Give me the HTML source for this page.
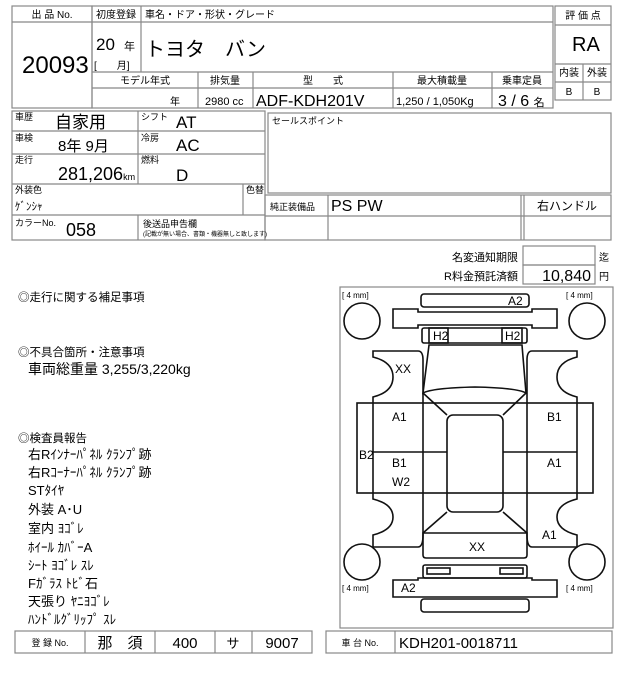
<!DOCTYPE html>
<html><head><meta charset="utf-8"><style>
html,body{margin:0;padding:0;background:#fff;}
svg{display:block;font-family:"Liberation Sans Narrow","Liberation Sans","Noto Sans CJK JP",sans-serif;}
</style></head><body>
<svg width="640" height="680" viewBox="0 0 640 680" xmlns="http://www.w3.org/2000/svg">
<g fill="none" stroke="#888" stroke-width="1.2">
<rect x="12" y="6" width="80" height="102"/><line x1="12" y1="22" x2="92" y2="22"/>
<rect x="92" y="6" width="461" height="102"/>
<line x1="92" y1="22" x2="553" y2="22"/><line x1="141" y1="6" x2="141" y2="72"/>
<line x1="92" y1="72" x2="553" y2="72"/><line x1="92" y1="88" x2="553" y2="88"/>
<line x1="198" y1="72" x2="198" y2="108"/><line x1="253" y1="72" x2="253" y2="108"/>
<line x1="393" y1="72" x2="393" y2="108"/><line x1="492" y1="72" x2="492" y2="108"/>
<rect x="555" y="6" width="56" height="94"/><line x1="555" y1="25" x2="611" y2="25"/>
<line x1="555" y1="64" x2="611" y2="64"/><line x1="555" y1="82" x2="611" y2="82"/><line x1="583" y1="64" x2="583" y2="100"/>
<rect x="12" y="111" width="253" height="129"/>
<line x1="12" y1="131" x2="265" y2="131"/><line x1="12" y1="154" x2="265" y2="154"/>
<line x1="12" y1="184" x2="265" y2="184"/><line x1="12" y1="215" x2="265" y2="215"/>
<line x1="138" y1="111" x2="138" y2="184"/><line x1="138" y1="215" x2="138" y2="240"/>
<line x1="243" y1="184" x2="243" y2="215"/>
<rect x="268" y="113" width="343" height="80"/>
<rect x="265" y="195" width="346" height="45"/><line x1="265" y1="216" x2="611" y2="216"/>
<line x1="328" y1="195" x2="328" y2="240"/><line x1="521" y1="195" x2="521" y2="240"/><line x1="524" y1="195" x2="524" y2="240"/>
<rect x="523" y="246" width="72" height="19"/><rect x="523" y="265" width="72" height="19"/>
<rect x="340" y="287" width="273" height="341"/>
<rect x="15" y="631" width="297" height="22"/>
<line x1="85" y1="631" x2="85" y2="653"/><line x1="155" y1="631" x2="155" y2="653"/>
<line x1="215" y1="631" x2="215" y2="653"/><line x1="252" y1="631" x2="252" y2="653"/>
<rect x="326" y="631" width="286" height="22"/><line x1="395" y1="631" x2="395" y2="653"/>
</g>
<g fill="none" stroke="#111" stroke-width="1.6">
<rect x="421" y="294" width="108" height="13" rx="3"/>
<path d="M393 309 H418 V312 H532 V309 H557 V328 H532 V325 H418 V328 H393 Z"/>
<rect x="422" y="328" width="105" height="15" rx="2"/>
<rect x="429" y="328" width="19" height="15"/><rect x="502" y="328" width="20" height="15"/>
<circle cx="362" cy="321" r="18"/><circle cx="587" cy="321" r="18"/>
<circle cx="362" cy="562" r="18"/><circle cx="587" cy="562" r="18"/>
<path d="M429 345 L522 345 L526 393 Q518 388 475 387 Q432 388 423 393 Z"/>
<path d="M423 393 L447 415 M526 393 L503 415"/>
<rect x="447" y="415" width="56" height="97" rx="6"/>
<path d="M373 403 V397 Q393 392 393 377 Q393 362 373 357 V351 H418 Q423 351 423 360 V403"/>
<path d="M577 403 V397 Q557 392 557 377 Q557 362 577 357 V351 H532 Q527 351 527 360 V403"/>
<rect x="357" y="403" width="236" height="90"/>
<line x1="373" y1="403" x2="373" y2="493"/><line x1="423" y1="403" x2="423" y2="493"/>
<line x1="577" y1="403" x2="577" y2="493"/><line x1="527" y1="403" x2="527" y2="493"/>
<line x1="373" y1="452" x2="447" y2="452"/><line x1="503" y1="452" x2="577" y2="452"/>
<path d="M373 493 V499 Q393 504 393 517 Q393 530 373 535 V547 H418 Q423 547 423 535 V493"/>
<path d="M577 493 V499 Q557 504 557 517 Q557 530 577 535 V547 H532 Q527 547 527 535 V493"/>
<path d="M447 512 L423 533 M503 512 L527 533"/>
<path d="M423 533 H527 V555 Q527 558 524 558 H426 Q423 558 423 555 Z"/>
<rect x="423" y="565" width="104" height="13" rx="2"/>
<rect x="427" y="568" width="23" height="6"/><rect x="500" y="568" width="23" height="6"/>
<path d="M393 597 V580 H418 V578 H532 V580 H557 V597 Z"/>
<rect x="421" y="599" width="108" height="13" rx="3"/>
</g>
<g fill="#000" font-size="12">
<text x="395" y="373">XX</text>
<text x="392" y="421">A1</text><text x="359" y="459">B2</text>
<text x="392" y="467">B1</text><text x="392" y="486">W2</text>
<text x="547" y="421">B1</text><text x="547" y="467">A1</text>
<text x="542" y="539">A1</text><text x="469" y="551">XX</text>
<text x="508" y="305">A2</text><text x="401" y="592">A2</text>
<text x="433" y="340">H2</text><text x="505" y="340">H2</text>
<g font-size="8"><text x="342" y="298">[ 4 mm]</text><text x="566" y="298">[ 4 mm]</text>
<text x="342" y="591">[ 4 mm]</text><text x="566" y="591">[ 4 mm]</text></g>
</g>
<g fill="#000">
<g font-size="10" text-anchor="middle">
<text x="52" y="18">出 品 No.</text><text x="116" y="18">初度登録</text>
<text x="145" y="18" text-anchor="start">車名・ドア・形状・グレード</text>
<text x="145" y="84">モデル年式</text><text x="225" y="84">排気量</text>
<text x="323" y="84">型　　式</text><text x="442" y="84">最大積載量</text><text x="522" y="84">乗車定員</text>
<text x="583" y="19">評 価 点</text><text x="569" y="76">内装</text><text x="597" y="76">外装</text>
<text x="569" y="95">B</text><text x="597" y="95">B</text>
</g>
<text x="22" y="73" font-size="24">20093</text>
<text x="96" y="50" font-size="17">20</text><text x="124" y="50" font-size="11">年</text>
<text x="94" y="69" font-size="10">[　　月]</text>
<text x="145" y="56" font-size="20">トヨタ　バン</text>
<text x="170" y="105" font-size="10">年</text>
<text x="205" y="105" font-size="11">2980 cc</text>
<text x="256" y="106" font-size="16">ADF-KDH201V</text>
<text x="396" y="105" font-size="11">1,250 /  1,050Kg</text>
<text x="498" y="106" font-size="16">3 / 6 <tspan font-size="11">名</tspan></text>
<text x="572" y="51" font-size="20">RA</text>
<g font-size="9"><text x="15" y="120">車歴</text><text x="15" y="141">車検</text><text x="15" y="163">走行</text>
<text x="141" y="120">シフト</text><text x="141" y="141">冷房</text><text x="141" y="163">燃料</text>
<text x="15" y="193">外装色</text><text x="246" y="193">色替</text>
<text x="15" y="226">カラーNo.</text><text x="143" y="227">後送品申告欄</text>
<text x="272" y="124">セールスポイント</text><text x="270" y="210">純正装備品</text></g>
<text x="143" y="236" font-size="6">(記載が無い場合、書類・機器無しと致します)</text>
<text x="55" y="128" font-size="17">自家用</text>
<text x="176" y="128" font-size="17">AT</text><text x="176" y="151" font-size="17">AC</text><text x="176" y="181" font-size="17">D</text>
<text x="58" y="151" font-size="15">8年 9月</text>
<text x="58" y="180" font-size="18">281,206<tspan font-size="9">km</tspan></text>
<text x="15" y="210" font-size="11">ｹﾞﾝｼｬ</text>
<text x="66" y="236" font-size="18">058</text>
<text x="331" y="211" font-size="16">PS PW</text>
<text x="567" y="210" font-size="12" text-anchor="middle">右ハンドル</text>
<text x="518" y="261" font-size="11" text-anchor="end">名変通知期限</text>
<text x="518" y="280" font-size="11" text-anchor="end">R料金預託済額</text>
<text x="599" y="261" font-size="10">迄</text><text x="599" y="280" font-size="10">円</text>
<text x="591" y="281" font-size="16" text-anchor="end">10,840</text>
<g font-size="11.5">
<text x="18" y="301">◎走行に関する補足事項</text>
<text x="18" y="356">◎不具合箇所・注意事項</text>
<text x="18" y="442">◎検査員報告</text></g>
<text x="28" y="374" font-size="14">車両総重量 3,255/3,220kg</text>
<g font-size="13">
<text x="28" y="459">右Rｲﾝﾅｰﾊﾟﾈﾙ ｸﾗﾝﾌﾟ跡</text>
<text x="28" y="477">右Rｺｰﾅｰﾊﾟﾈﾙ ｸﾗﾝﾌﾟ跡</text>
<text x="28" y="495">STﾀｲﾔ</text>
<text x="28" y="514">外装 A･U</text>
<text x="28" y="533">室内 ﾖｺﾞﾚ</text>
<text x="28" y="552">ﾎｲｰﾙ ｶﾊﾞｰA</text>
<text x="28" y="570">ｼｰﾄ ﾖｺﾞﾚ ｽﾚ</text>
<text x="28" y="588">Fｶﾞﾗｽ ﾄﾋﾞ石</text>
<text x="28" y="606">天張り ﾔﾆﾖｺﾞﾚ</text>
<text x="28" y="624">ﾊﾝﾄﾞﾙｸﾞﾘｯﾌﾟ ｽﾚ</text></g>
<text x="50" y="646" font-size="9" text-anchor="middle">登 録 No.</text>
<text x="120" y="648" font-size="15" text-anchor="middle">那　須</text>
<text x="185" y="648" font-size="15" text-anchor="middle">400</text>
<text x="233" y="648" font-size="13" text-anchor="middle">サ</text>
<text x="282" y="648" font-size="15" text-anchor="middle">9007</text>
<text x="360" y="646" font-size="9" text-anchor="middle">車 台 No.</text>
<text x="399" y="648" font-size="15">KDH201-0018711</text>
</g>
</svg>
</body></html>
